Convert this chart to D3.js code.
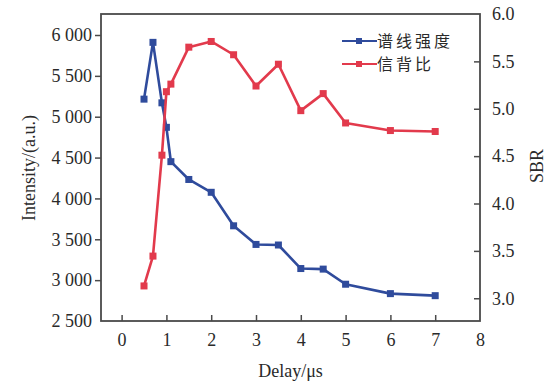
<!DOCTYPE html>
<html><head><meta charset="utf-8">
<script src="https://cdn.jsdelivr.net/npm/d3@7"></script>
<style>body{margin:0;background:#fff}svg{display:block}</style>
</head><body>
<svg id="c" width="554" height="383"></svg>
<script>
const delay = [0.5, 0.7, 0.9, 1.0, 1.1, 1.5, 2, 2.5, 3, 3.5, 4, 4.5, 5, 6, 7];
const intensity = [5215, 5910, 5170, 4870, 4450, 4232, 4075, 3665, 3437, 3430, 3142, 3135, 2950, 2835, 2810];
const sbr = [3.13, 3.445, 4.51, 5.18, 5.26, 5.65, 5.71, 5.57, 5.24, 5.47, 4.98, 5.16, 4.85, 4.77, 4.76];
const xTicks = [0, 1, 2, 3, 4, 5, 6, 7, 8];
const leftTicks = [2500, 3000, 3500, 4000, 4500, 5000, 5500, 6000];
const rightTicks = [3.0, 3.5, 4.0, 4.5, 5.0, 5.5, 6.0];
const seriesNames = ["谱线强度", "信背比"];

const L = 101, R = 480, T = 14, B = 321;
const blue = "#2f4b9c", red = "#e23a4c", axisCol = "#4a4a4a", txt = "#2a2a2a";
const svg = d3.select("#c");
const x = d3.scaleLinear().domain([-0.46, 8]).range([L, R]);
const yL = d3.scaleLinear().domain([2500, 6257]).range([B, T]);
const yR = d3.scaleLinear().domain([2.76, 6.0]).range([B, T]);
const font = "'Liberation Serif', 'Times New Roman', serif";
const fmtL = d => d3.format(",")(d).replace(",", " ");

// axes
const gx = svg.append("g").attr("transform", `translate(0,${B})`)
  .call(d3.axisBottom(x).tickValues(xTicks).tickSizeInner(-6).tickSizeOuter(0).tickPadding(12).tickFormat(d3.format("d")));
const gl = svg.append("g").attr("transform", `translate(${L},0)`)
  .call(d3.axisLeft(yL).tickValues(leftTicks).tickSizeInner(6).tickSizeOuter(0).tickPadding(3).tickFormat(fmtL));
const gr = svg.append("g").attr("transform", `translate(${R},0)`)
  .call(d3.axisRight(yR).tickValues(rightTicks).tickSizeInner(-6).tickSizeOuter(0).tickPadding(12).tickFormat(d3.format(".1f")));
[gx, gl, gr].forEach(g => {
  g.selectAll("path.domain").remove();
  g.selectAll("line").attr("stroke", axisCol).attr("stroke-width", 1.5);
  g.selectAll("text").attr("font-family", font).attr("font-size", 18).attr("fill", txt);
});
// hide corner ticks
gx.selectAll(".tick").filter(d => d === 8).select("line").remove();
gl.selectAll(".tick").filter(d => d === 2500).select("line").remove();
gr.selectAll(".tick").filter(d => d === 6.0).select("line").remove();

// frame
svg.append("rect").attr("x", L).attr("y", T).attr("width", R - L).attr("height", B - T)
  .attr("fill", "none").attr("stroke", axisCol).attr("stroke-width", 1.8);

// series
function drawSeries(vals, yScale, color) {
  const pts = delay.map((d, i) => [d, vals[i]]);
  svg.append("path").datum(pts)
    .attr("d", d3.line().x(d => x(d[0])).y(d => yScale(d[1])))
    .attr("fill", "none").attr("stroke", color).attr("stroke-width", 2.6).attr("stroke-linejoin", "round");
  svg.append("g").selectAll("rect").data(pts).join("rect")
    .attr("x", d => x(d[0]) - 3.5).attr("y", d => yScale(d[1]) - 3.5)
    .attr("width", 7).attr("height", 7).attr("fill", color);
}
drawSeries(intensity, yL, blue);
drawSeries(sbr, yR, red);

// legend
const leg = [{n: seriesNames[0], c: blue, y: 41}, {n: seriesNames[1], c: red, y: 64}];
leg.forEach(l => {
  svg.append("line").attr("x1", 342).attr("x2", 377).attr("y1", l.y).attr("y2", l.y)
    .attr("stroke", l.c).attr("stroke-width", 2.2);
  svg.append("rect").attr("x", 359 - 3).attr("y", l.y - 3).attr("width", 6).attr("height", 6).attr("fill", l.c);
  svg.append("text").attr("x", 377).attr("y", l.y + 6).text(l.n)
    .attr("letter-spacing", 3).attr("font-family", "'Noto Sans CJK SC', sans-serif")
    .attr("font-size", 16).attr("fill", txt);
});

// titles
svg.append("text").attr("x", (L + R) / 2).attr("y", 377).attr("text-anchor", "middle")
  .attr("font-family", font).attr("font-size", 18).attr("fill", txt).text("Delay/μs");
svg.append("text").attr("transform", "translate(35,168) rotate(-90)").attr("text-anchor", "middle")
  .attr("font-family", font).attr("font-size", 18).attr("fill", txt).text("Intensity/(a.u.)");
svg.append("text").attr("transform", "translate(543,166) rotate(-90)").attr("text-anchor", "middle")
  .attr("font-family", font).attr("font-size", 18).attr("fill", txt).text("SBR");
</script>
</body></html>
